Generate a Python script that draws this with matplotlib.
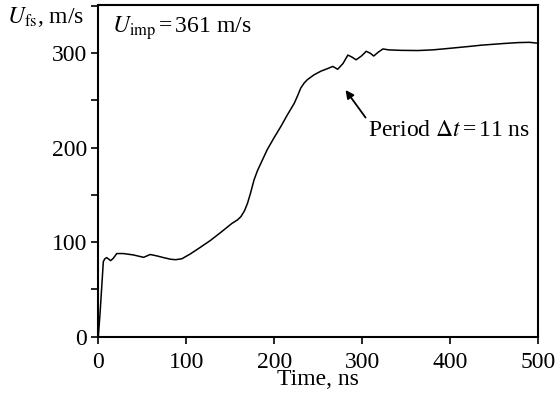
"""Free-surface velocity profile, U_imp = 361 m/s."""

import matplotlib
matplotlib.use("Agg")
import matplotlib.pyplot as plt
from matplotlib.ticker import MultipleLocator

# curve (time in ns, velocity in m/s)
time_ns = [0, 2, 3.9, 5.7, 7.5, 9.5, 12, 14, 17, 21, 28.5, 40, 51.5, 59,
           66.6, 75, 82, 88, 95, 104.6, 115, 127.6, 140, 152, 158, 162, 166,
           169.5, 173, 177, 181, 185, 188.5, 192, 200, 207.5, 215, 222.7,
           226.5, 230, 234, 237.6, 245, 253, 260, 266.5, 272, 278, 283.6,
           288, 293, 299, 304.5, 309, 313, 318, 323.5, 330, 344, 363, 380,
           397.6, 420, 435.6, 460, 477, 490, 500]
u_fs = [0, 25, 53, 79.5, 82.5, 83.7, 82, 80.5, 83, 88, 88, 86.5, 84, 87,
        85.5, 83.5, 82, 81.5, 82.5, 87.6, 94, 102, 111, 120, 123.5, 127, 133,
        141, 152, 166, 176, 184, 191, 198, 211, 222.5, 235, 247,
        255, 263, 268.5, 272, 277, 281, 283.5, 286, 283, 289, 298,
        296, 293, 297, 302, 300, 297, 301, 304.5, 303.5, 303, 302.8, 303.5,
        305, 307, 308.5, 310.2, 311.2, 311.5, 310.5]

x_ticks = [0, 100, 200, 300, 400, 500]
y_ticks = [0, 100, 200, 300]

plt.rcParams["font.family"] = "Liberation Serif"
plt.rcParams["mathtext.fontset"] = "stix"
plt.rcParams["font.size"] = 17

fig = plt.figure(figsize=(5.57, 3.99), dpi=100)
ax = fig.add_axes([0.1765, 0.1561, 0.7899, 0.8314])

ax.plot(time_ns, u_fs, color="black", lw=1.1)

ax.set_xlim(0, 500)
ax.set_ylim(0, 351)
ax.set_xticks(x_ticks)
ax.set_yticks(y_ticks)
ax.yaxis.set_minor_locator(MultipleLocator(50))
ax.tick_params(which="both", direction="out", length=5, width=1.2,
               labelsize=17, top=False, right=False)
ax.tick_params(axis="x", pad=6)
ax.tick_params(axis="y", pad=3)
for s in ax.spines.values():
    s.set_linewidth(1.5)

ax.set_xlabel("Time, ns", fontsize=17, labelpad=-3)
fig.text(0.012, 0.942, r"$U_{\rm fs}$, m/s", fontsize=17, ha="left", va="baseline")
ax.text(15.6, 321.7, r"$U_{\rm imp}$$\,$=$\,$361 m/s", fontsize=17,
        ha="left", va="baseline")

ax.annotate(r"Period $\Delta t$$\,$=$\,$11 ns", xy=(281, 261), xytext=(306, 212),
            fontsize=17, ha="left", va="baseline",
            arrowprops=dict(arrowstyle="-|>", color="black", lw=1.3,
                            mutation_scale=12, shrinkA=0, shrinkB=0,
                            relpos=(0, 1)))

fig.savefig("out.png", dpi=100)
